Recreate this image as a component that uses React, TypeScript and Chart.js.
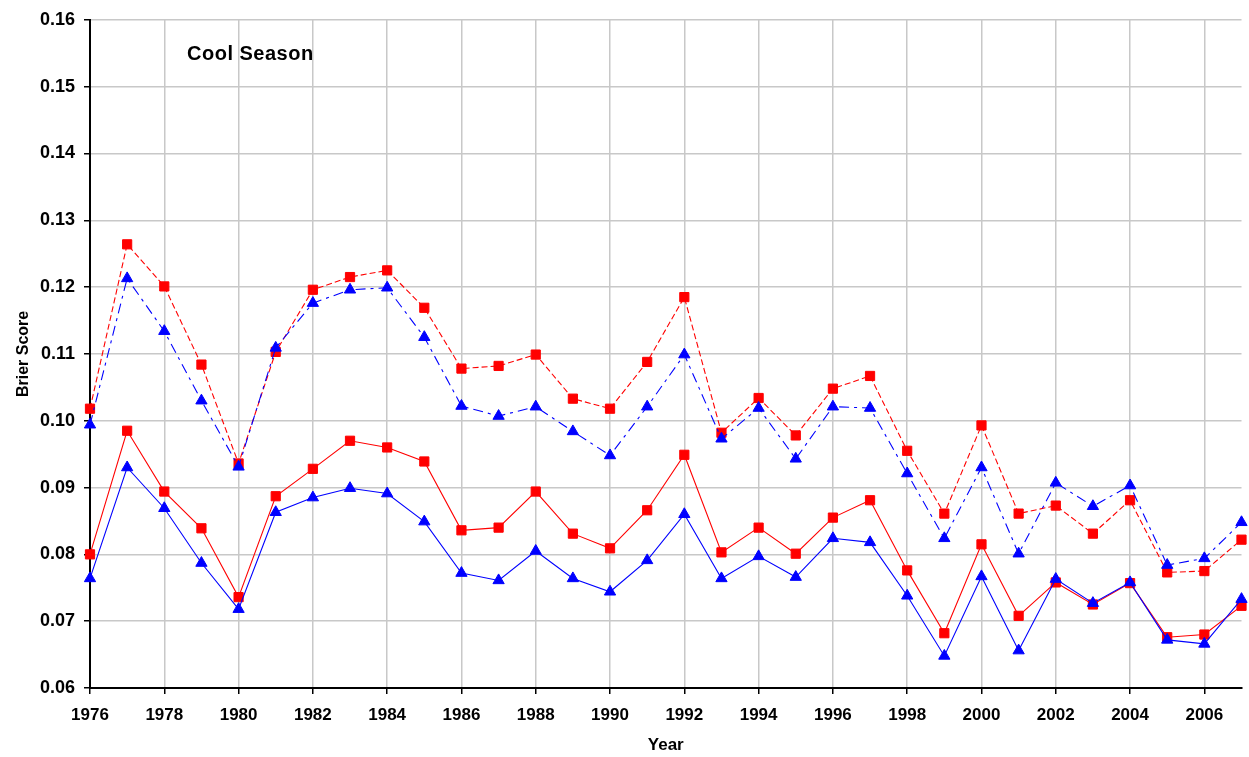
import React, { useEffect, useRef } from "react";
import { Chart, registerables } from "chart.js";

Chart.register(...registerables);

const years: number[] = Array.from({ length: 32 }, (_, i) => 1976 + i);

const redDashed: number[] = [
  0.1018, 0.1264, 0.1201, 0.1084, 0.0936, 0.1103, 0.1196, 0.1215, 0.1225, 0.1169,
  0.1078, 0.1082, 0.1099, 0.1033, 0.1018, 0.1088, 0.1185, 0.0982, 0.1034, 0.0978,
  0.1048, 0.1067, 0.0955, 0.0861, 0.0993, 0.0861, 0.0873, 0.0831, 0.0881, 0.0773,
  0.0775, 0.0822,
];
const blueDashed: number[] = [
  0.0994, 0.1213, 0.1134, 0.103, 0.0931, 0.1109, 0.1176, 0.1196, 0.1199, 0.1125,
  0.1022, 0.1007, 0.1021, 0.0984, 0.0948, 0.1021, 0.1099, 0.0973, 0.1019, 0.0943,
  0.1021, 0.1019, 0.0921, 0.0824, 0.093, 0.0801, 0.0907, 0.0872, 0.0903, 0.0784,
  0.0794, 0.0848,
];
const redSolid: number[] = [
  0.08, 0.0985, 0.0894, 0.0839, 0.0736, 0.0887, 0.0928, 0.097, 0.096, 0.0939,
  0.0836, 0.084, 0.0894, 0.0831, 0.0809, 0.0866, 0.0949, 0.0803, 0.084, 0.0801,
  0.0855, 0.0881, 0.0776, 0.0682, 0.0815, 0.0708, 0.0758, 0.0725, 0.0757, 0.0676,
  0.068, 0.0723,
];
const blueSolid: number[] = [
  0.0764, 0.093, 0.0869, 0.0787, 0.0718, 0.0863, 0.0885, 0.0899, 0.0891, 0.0849,
  0.0772, 0.0761, 0.0805, 0.0764, 0.0744, 0.0791, 0.086, 0.0764, 0.0797, 0.0766,
  0.0824, 0.0818, 0.0738, 0.0648, 0.0767, 0.0656, 0.0763, 0.0727, 0.0758, 0.0672,
  0.0666, 0.0733,
];

const chartTitle = "Cool Season";
const xTitle = "Year";
const yTitle = "Brier Score";

const FONT = "'Liberation Sans', Arial, sans-serif";

const toXY = (vals: number[]) => vals.map((v, i) => ({ x: years[i], y: v }));

const annotationPlugin = {
  id: "coolSeason",
  afterDraw(chart: any) {
    const ctx = chart.ctx;
    ctx.save();
    ctx.font = `bold 20px ${FONT}`;
    ctx.fillStyle = "#000";
    ctx.textAlign = "left";
    ctx.textBaseline = "middle";
    try {
      (ctx as any).letterSpacing = "0.5px";
    } catch (e) {}
    ctx.fillText(chartTitle, 187, 54);
    ctx.restore();
  },
};

export default function App() {
  const ref = useRef<HTMLCanvasElement | null>(null);

  useEffect(() => {
    if (!ref.current) return;
    const mk = (
      label: string,
      vals: number[],
      color: string,
      style: string,
      dash: number[]
    ) => ({
      label,
      data: toXY(vals),
      borderColor: color,
      backgroundColor: color,
      borderWidth: 1.1,
      borderDash: dash,
      pointStyle: style,
      pointRadius: 6.5,
      pointBorderWidth: 1,
      pointBorderColor: color,
      pointBackgroundColor: color,
      tension: 0,
      clip: false as any,
    });
    const chart = new Chart(ref.current, {
      type: "line",
      data: {
        datasets: [
          mk("Blue dashed", blueDashed, "#0000FF", "triangle", [10, 5, 3, 5]),
          mk("Blue solid", blueSolid, "#0000FF", "triangle", []),
          mk("Red dashed", redDashed, "#FF0000", "rect", [6, 3]),
          mk("Red solid", redSolid, "#FF0000", "rect", []),
        ],
      },
      options: {
        animation: false,
        responsive: false,
        devicePixelRatio: 1,
        layout: { padding: { left: 10, right: 7, top: 18, bottom: 0 } },
        plugins: {
          legend: { display: false },
          tooltip: { enabled: false },
          title: { display: false },
        },
        scales: {
          x: {
            type: "linear",
            min: 1976,
            max: 2007,
            afterFit: (s: any) => {
              s.height = 69;
            },
            ticks: {
              stepSize: 2,
              includeBounds: false,
              autoSkip: false,
              maxRotation: 0,
              padding: 11,
              color: "#000",
              font: { family: FONT, size: 17, weight: "bold" },
              callback: (v: any) => String(v),
            },
            grid: {
              color: "#c8c8c8",
              lineWidth: 1.5,
              tickColor: "#000",
              tickLength: 6,
              tickWidth: 1.5,
            },
            border: { color: "#000", width: 2 },
            title: {
              display: true,
              text: xTitle,
              color: "#000",
              font: { family: FONT, size: 17, weight: "bold" },
              padding: { top: 4, bottom: 1 },
            },
          },
          y: {
            type: "linear",
            min: 0.06,
            max: 0.16,
            afterFit: (s: any) => {
              s.width = 80;
            },
            ticks: {
              stepSize: 0.01,
              padding: 9,
              color: "#000",
              font: { family: FONT, size: 18, weight: "bold" },
              callback: (v: any) => Number(v).toFixed(2),
            },
            grid: {
              color: "#c8c8c8",
              lineWidth: 1.5,
              tickColor: "#000",
              tickLength: 6,
              tickWidth: 1.5,
            },
            border: { color: "#000", width: 2 },
            title: {
              display: true,
              text: yTitle,
              color: "#000",
              font: { family: FONT, size: 16, weight: "bold" },
              padding: { top: 4, bottom: 4 },
            },
          },
        },
      } as any,
      plugins: [annotationPlugin],
    });
    return () => chart.destroy();
  }, []);

  return (
    <div style={{ position: "absolute", left: 0, top: 0, width: 1249, height: 757, background: "#fff" }}>
      <canvas ref={ref} width={1249} height={757} />
    </div>
  );
}
